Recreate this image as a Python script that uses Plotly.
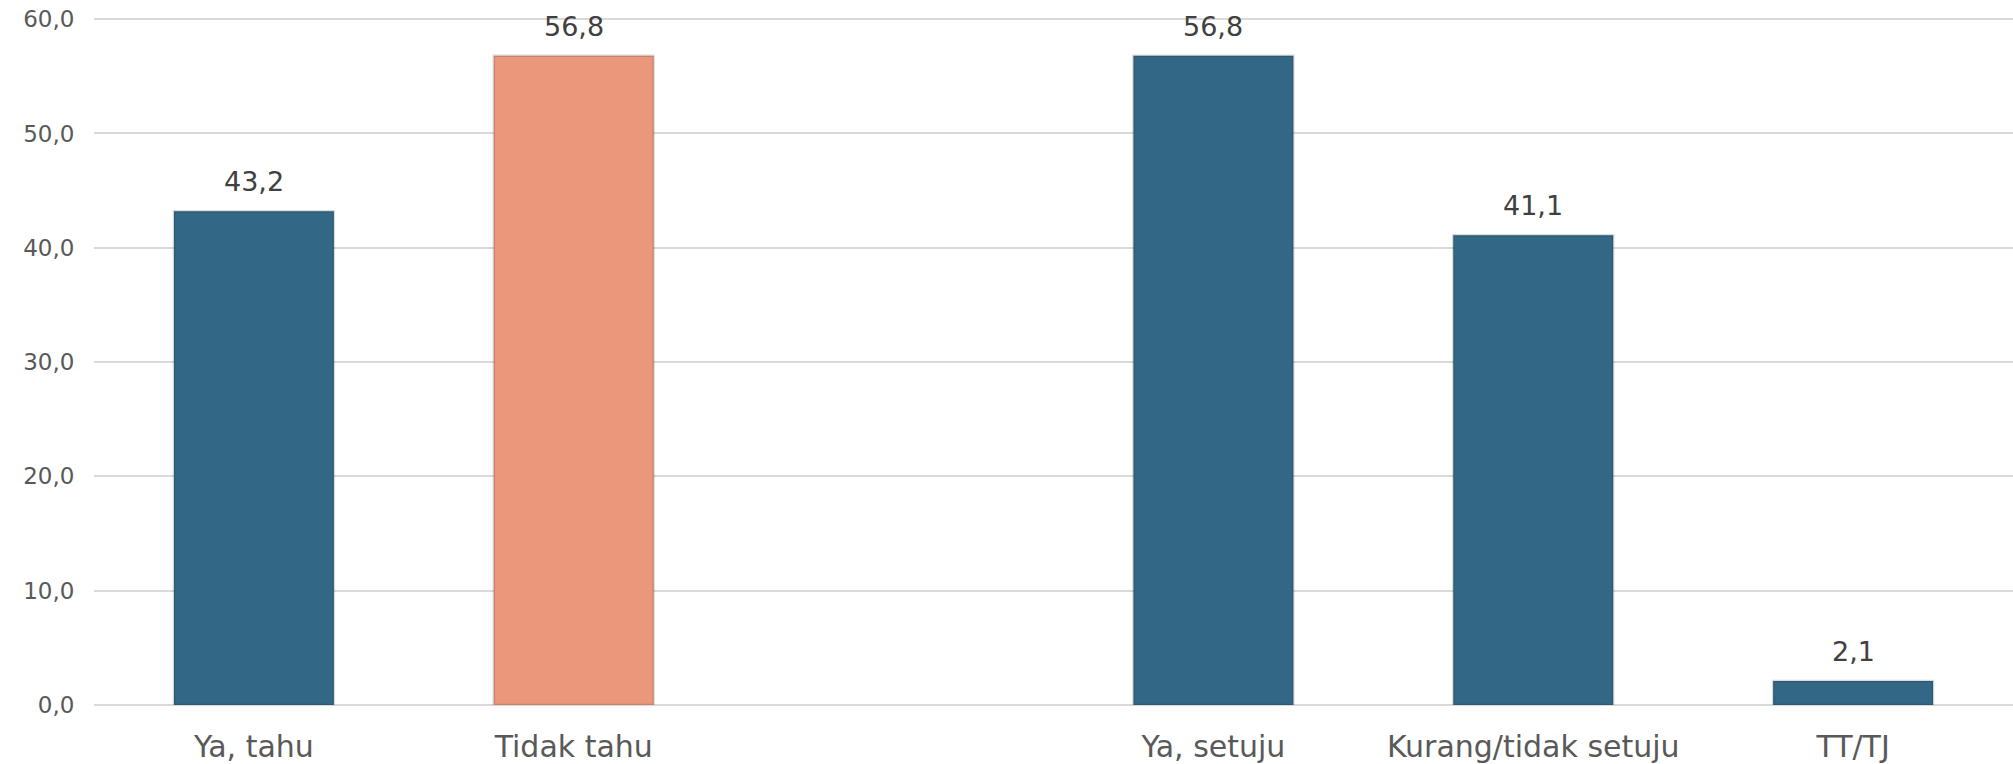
import plotly.graph_objects as go

categories = ["Ya, tahu", "Tidak tahu", " ", "Ya, setuju", "Kurang/tidak setuju", "TT/TJ"]
values = [43.2, 56.8, None, 56.8, 41.1, 2.1]
labels = ["43,2", "56,8", "", "56,8", "41,1", "2,1"]
colors = ["#326885", "#EB977B", "#326885", "#326885", "#326885", "#326885"]
tick_vals = [0, 10, 20, 30, 40, 50, 60]
tick_text = ["0,0", "10,0", "20,0", "30,0", "40,0", "50,0", "60,0"]

font_family = "DejaVu Sans, Liberation Sans, sans-serif"

fig = go.Figure()
fig.add_trace(go.Bar(
    x=categories,
    y=values,
    marker=dict(color=colors, line=dict(color="rgba(0,0,0,0.14)", width=2.5)),
    cliponaxis=False,
    hoverinfo="skip",
))

for c, v, t in zip(categories, values, labels):
    if v is None:
        continue
    fig.add_annotation(
        x=c, y=v, text=t, showarrow=False,
        xanchor="center", yanchor="bottom", yshift=12,
        font=dict(family=font_family, size=27, color="#404040"),
    )

fig.update_layout(
    width=2013, height=764,
    margin=dict(l=94, r=0, t=18, b=59, autoexpand=False),
    paper_bgcolor="white",
    plot_bgcolor="white",
    bargap=0.5,
    showlegend=False,
    font=dict(family=font_family, color="#595959"),
)
fig.update_xaxes(
    type="category",
    automargin=False,
    showgrid=False,
    showline=False,
    tickfont=dict(family=font_family, size=30, color="#595959"),
    ticks="outside", ticklen=15, tickcolor="rgba(0,0,0,0)",
)
fig.update_yaxes(
    range=[0, 60.1],
    automargin=False,
    tickvals=tick_vals,
    ticktext=tick_text,
    showgrid=True,
    gridcolor="#D9D9D9",
    gridwidth=2,
    zeroline=True,
    zerolinecolor="#D9D9D9",
    zerolinewidth=2,
    showline=False,
    tickfont=dict(family=font_family, size=23, color="#595959"),
    ticks="outside", ticklen=14, tickcolor="rgba(0,0,0,0)",
)

fig.write_html("out.html", config={"displayModeBar": False},
               post_script="document.body.style.margin='0';")
